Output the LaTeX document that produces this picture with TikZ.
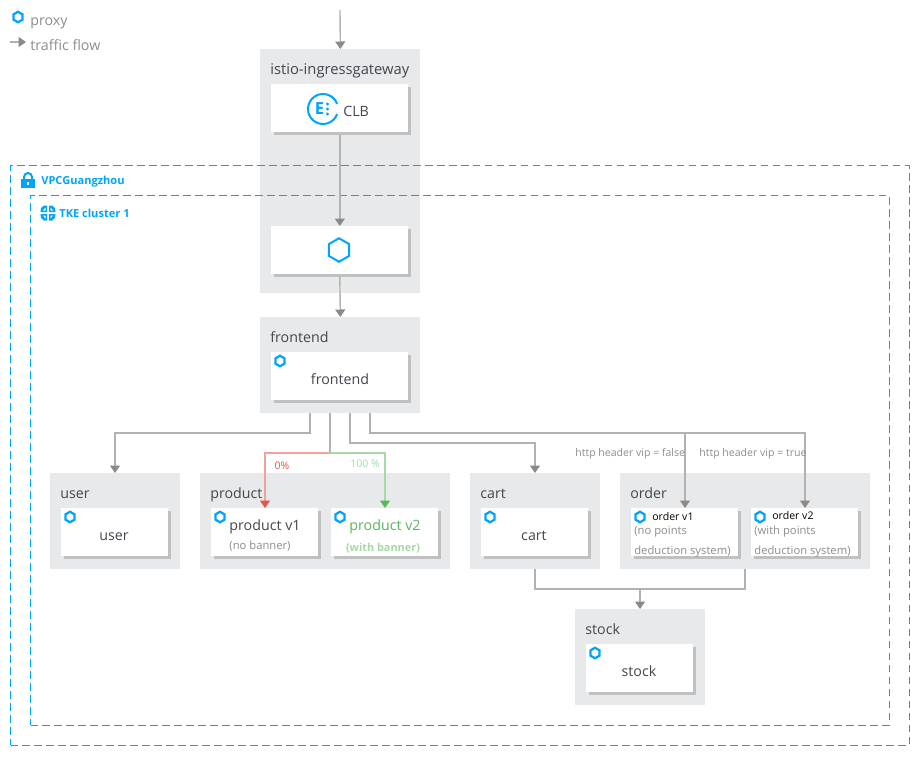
\documentclass[tikz,border=0pt]{standalone}
\usepackage{fontspec}
\setmainfont{Open Sans}
\usepackage{xcolor}
\usetikzlibrary{arrows.meta, positioning, shapes.geometric, shadows}

\definecolor{panelgray}{HTML}{E8E9EB}
\definecolor{edgegray}{HTML}{B2B2B2}
\definecolor{tipgray}{HTML}{8A8A8A}
\definecolor{shadowgray}{HTML}{C0C0C0}
\definecolor{proxyblue}{HTML}{00A4FF}
\definecolor{titleink}{HTML}{45454F}
\definecolor{noteink}{HTML}{8C8C92}
\definecolor{redline}{HTML}{F0A29C}
\definecolor{redtip}{HTML}{E2574C}
\definecolor{greenline}{HTML}{A6D9A8}
\definecolor{greentip}{HTML}{57B85C}

\tikzset{
  panel/.style={fill=panelgray, anchor=north west, inner sep=0pt},
  card/.style={fill=white, anchor=north west, inner sep=0pt, minimum width=2.14cm, minimum height=0.96cm,
    general shadow={shadow xshift=0.05cm, shadow yshift=-0.05cm, fill=shadowgray, opacity=1}},
  paneltitle/.style={anchor=base west, inner sep=0pt, text=titleink, font=\fontsize{8.1}{9}\selectfont},
  cardtext/.style={anchor=base, inner sep=0pt, text=titleink, font=\fontsize{8.1}{9}\selectfont},
  legendtext/.style={anchor=base west, inner sep=0pt, text=noteink, font=\fontsize{8.1}{9}\selectfont},
  smallnote/.style={anchor=base west, inner sep=0pt, text=noteink, font=\fontsize{6.4}{7}\selectfont},
  bluetitle/.style={anchor=base west, inner sep=0pt, text=proxyblue, font=\fontsize{6.3}{7}\bfseries\selectfont},
  hexmark/.style={regular polygon, regular polygon sides=6, shape border rotate=30, draw=proxyblue, line width=0.045cm,
    inner sep=0pt, minimum size=0.21cm},
  flow/.style={draw=edgegray, line width=0.028cm, -{Triangle[length=0.15cm, width=0.2cm, color=tipgray]}},
  plainflow/.style={draw=edgegray, line width=0.028cm},
  fence/.style={draw=proxyblue, line width=0.024cm, dash pattern=on 0.15cm off 0.09cm, anchor=north west, inner sep=0pt, outer sep=0pt}
}

\begin{document}
\begin{tikzpicture}[x=0.02cm, y=-0.02cm]
\useasboundingbox (0,0) rectangle (920,758);

% Legenda
\node[hexmark] (legendhex) at (18,17) {};
\node[legendtext] (legendproxy) at (30,25) {proxy};
\node[legendtext] (legendflow) at (30,50) {traffic flow};
\coordinate (legendtail) at (10,42);
\coordinate (legendhead) at (26,42);
\draw[flow] (legendtail) -- (legendhead);

% Gateway
\node[panel, minimum width=3.2cm, minimum height=4.88cm] (gatewaypanel) at (260,49) {};
\node[paneltitle, font=\fontsize{8.4}{9}\selectfont] (gatewaytitle) at (270,74) {istio-ingressgateway};
\node[card, minimum width=2.74cm] (clbcard) at (271,84) {};
\node[card, minimum width=2.74cm] (proxycard) at (271,226) {};
\node[hexmark, minimum size=0.47cm, line width=0.04cm] (proxyhex) at (339,250) {};
\draw[proxyblue, line width=0.04cm] (323,109) ++(20:15) arc (20:340:15);
\node[inner sep=0pt, text=proxyblue, font=\fontsize{9.5}{10}\bfseries\selectfont] (clbglyph) at (319.5,109) {E};
\foreach \yy in {104,109,114} \fill[proxyblue] (327.5,\yy) circle (1.7);
\node[cardtext, anchor=base west] (clbtext) at (343,116) {CLB};

% Cadre
\node[fence, minimum width=17.98cm, minimum height=11.6cm] (vpcfence) at (10.5,165.5) {};
\node[fence, minimum width=17.18cm, minimum height=10.6cm] (tkefence) at (30.5,195.5) {};
\node[bluetitle] (vpctitle) at (41,184) {VPCGuangzhou};
\node[bluetitle] (tketitle) at (59,217) {TKE cluster 1};
% lacat
\fill[proxyblue] (21,179) rectangle (35,188);
\fill[white] (27,182) rectangle (29,185);
\draw[proxyblue, line width=0.04cm] (24,179) -- (24,177) arc (180:360:4) -- (32,179);
% cluster
\foreach \sx/\sy in {-1/-1,1/-1,-1/1,1/1} {
  \fill[proxyblue] (48+\sx*1,213+\sy*1) -- (48+\sx*7.5,213+\sy*1) -- (48+\sx*7,213+\sy*5) -- (48+\sx*4,213+\sy*7.5) -- (48+\sx*1,213+\sy*7.5) -- cycle;
  \fill[white] (48+\sx*2.5,213+\sy*2.5) -- (48+\sx*5,213+\sy*2.5) -- (48+\sx*2.5,213+\sy*5.5) -- cycle;
}

% Frontend
\node[panel, minimum width=3.2cm, minimum height=1.92cm] (frontendpanel) at (260,317) {};
\node[paneltitle] (frontendtitle) at (270,342) {frontend};
\node[card, minimum width=2.74cm] (frontendcard) at (271,352) {};
\node[hexmark] (frontendhex) at (280,361) {};
\node[cardtext] (frontendtext) at (340,384) {frontend};

% User
\node[panel, minimum width=2.6cm, minimum height=1.92cm] (userpanel) at (50,473) {};
\node[paneltitle] (usertitle) at (60,498) {user};
\node[card] (usercard) at (61,508) {};
\node[hexmark] (userhex) at (70,517) {};
\node[cardtext] (usertext) at (114,540) {user};

% Product
\node[panel, minimum width=5cm, minimum height=1.92cm] (productpanel) at (200,473) {};
\node[paneltitle] (producttitle) at (210,498) {product};
\node[card] (productone) at (211,508) {};
\node[card] (producttwo) at (331,508) {};
\node[hexmark] (productonehex) at (220,517) {};
\node[hexmark] (producttwohex) at (340,517) {};
\node[cardtext] (productonetext) at (265,530) {product v1};
\node[smallnote, anchor=base] (productonenote) at (260,549) {(no banner)};
\node[cardtext, text=greentip] (producttwotext) at (385,530) {product v2};
\node[smallnote, anchor=base, text=greenline, font=\fontsize{6.2}{7}\bfseries\selectfont] (producttwonote) at (383,551) {(with banner)};

% Cart
\node[panel, minimum width=2.6cm, minimum height=1.92cm] (cartpanel) at (470,473) {};
\node[paneltitle] (carttitle) at (480,498) {cart};
\node[card] (cartcard) at (481,508) {};
\node[hexmark] (carthex) at (490,517) {};
\node[cardtext] (carttext) at (534,540) {cart};

% Order
\node[panel, minimum width=5cm, minimum height=1.92cm] (orderpanel) at (620,473) {};
\node[paneltitle] (ordertitle) at (630,498) {order};
\node[card] (orderone) at (631,508) {};
\node[card] (ordertwo) at (751,508) {};
\node[hexmark] (orderonehex) at (640,517) {};
\node[hexmark] (ordertwohex) at (760,517) {};
\node[smallnote, text=black, font=\fontsize{6}{7}\selectfont] (orderonetext) at (652,520) {order v1};
\node[smallnote, text=black, font=\fontsize{6}{7}\selectfont] (ordertwotext) at (772,519) {order v2};
\node[smallnote] (orderonenote) at (634,534) {(no points};
\node[smallnote] (orderonesys) at (634,554) {deduction system)};
\node[smallnote] (ordertwonote) at (754,534) {(with points};
\node[smallnote] (ordertwosys) at (754,554) {deduction system)};

% Stock
\node[panel, minimum width=2.6cm, minimum height=1.92cm] (stockpanel) at (575,609) {};
\node[paneltitle] (stocktitle) at (585,634) {stock};
\node[card] (stockcard) at (586,644) {};
\node[hexmark] (stockhex) at (595,653) {};
\node[cardtext] (stocktext) at (639,676) {stock};

% Trafic
\coordinate (ingress) at (340,10);
\coordinate (tapuser) at (310,413);
\coordinate (tapproduct) at (330,413);
\coordinate (tapcart) at (350,413);
\coordinate (taporder) at (370,413);
\coordinate (splitproduct) at (330,453);
\coordinate (splitorder) at (685,433);
\coordinate (mergestock) at (640,589);
\coordinate (cartout) at (535,569);
\coordinate (orderout) at (745,569);
\coordinate (userdrop) at (115,433);
\coordinate (cartdrop) at (535,443);
\coordinate (orderdrop) at (805,433);
\coordinate (redturn) at (265,453);
\coordinate (greenturn) at (385,453);
\draw[flow] (ingress) -- (gatewaypanel.north);
\draw[flow] (clbcard.south) ++(0,2) -- (proxycard.north);
\draw[flow] (proxycard.south) ++(0,2) -- (frontendpanel.north);
\draw[flow] (tapuser) |- (userdrop) -- (userdrop |- userpanel.north);
\draw[plainflow] (tapproduct) -- (splitproduct);
\draw[draw=redline, line width=0.028cm, -{Triangle[length=0.15cm, width=0.2cm, color=redtip]}] (splitproduct) -- (redturn) -- (redturn |- productone.north);
\draw[draw=greenline, line width=0.028cm, -{Triangle[length=0.15cm, width=0.2cm, color=greentip]}] (splitproduct) -- (greenturn) -- (greenturn |- producttwo.north);
\draw[flow] (tapcart) |- (cartdrop) -- (cartdrop |- cartpanel.north);
\draw[flow] (taporder) |- (orderdrop) -- (orderdrop |- ordertwo.north);
\draw[flow] (splitorder) -- (splitorder |- orderone.north);
\draw[plainflow] (cartout) |- (mergestock);
\draw[plainflow] (orderout) |- (mergestock);
\draw[flow] (mergestock) -- (mergestock |- stockpanel.north);

% Etichete
\node[smallnote, anchor=base, text=redtip, font=\fontsize{6}{7}\selectfont] (splitzero) at (282,469) {0\%};
\node[smallnote, anchor=base, text=greenline, font=\fontsize{6}{7}\selectfont] (splithundred) at (365,467) {100 \%};
\node[smallnote, font=\fontsize{6}{7}\selectfont] (vipfalse) at (575,456) {http header vip = false};
\node[smallnote, font=\fontsize{6}{7}\selectfont] (viptrue) at (699,456) {http header vip = true};

\end{tikzpicture}
\end{document}
